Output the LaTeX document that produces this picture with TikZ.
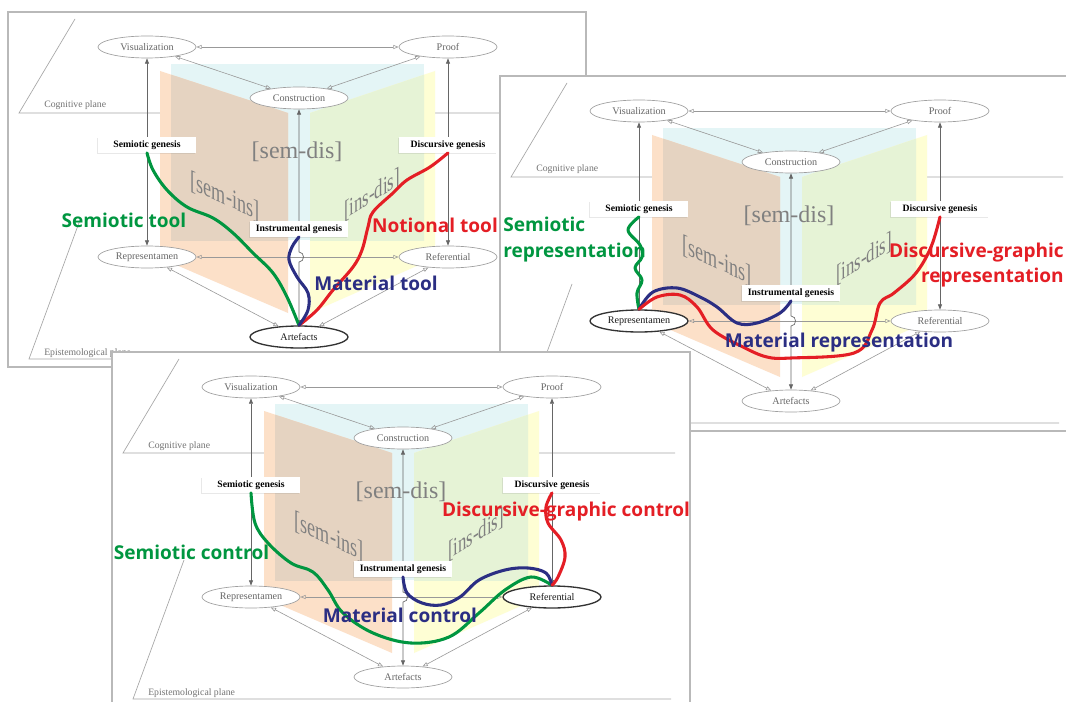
\documentclass[tikz,border=0pt]{standalone}
\usepackage{fontspec}
\setmainfont{Liberation Serif}
\newfontfamily\lblfont{Open Sans}
\usetikzlibrary{arrows.meta,shapes.geometric,shadows}
\definecolor{cyanC}{RGB}{228,245,246}
\definecolor{orangeC}{RGB}{252,224,200}
\definecolor{yellowC}{RGB}{254,254,212}
\definecolor{brownC}{RGB}{229,211,193}
\definecolor{greenC}{RGB}{230,243,214}
\definecolor{cgreen}{RGB}{0,150,64}
\definecolor{cred}{RGB}{228,30,37}
\definecolor{cnavy}{RGB}{43,46,131}
\tikzset{
 ell/.style={ellipse, draw=gray!75, line width=0.5pt, fill=white, minimum width=73.5pt, minimum height=16.5pt, inner sep=0pt, font=\fontsize{7.6}{9}\selectfont, text=black!60},
 hl/.style={ell, draw=black!80, line width=1pt, text=black!90},
 gen/.style={fill=white, minimum width=73.5pt, minimum height=11.5pt, inner sep=1pt, font=\bfseries\fontsize{7.3}{9}\selectfont, text=black, drop shadow={shadow xshift=-0.6pt, shadow yshift=-0.8pt, opacity=0.18}},
 oa/.style={draw=gray!80, line width=0.45pt, {Triangle[open,length=4pt,width=3pt]}-{Triangle[open,length=4pt,width=3pt]}},
 fa/.style={draw=black!60, line width=0.5pt, {Triangle[length=4pt,width=3pt]}-{Triangle[length=4pt,width=3pt]}},
 planeline/.style={draw=gray!70, line width=0.5pt},
 planetxt/.style={font=\fontsize{7.3}{9}\selectfont, text=black!55, anchor=base west, inner sep=0pt},
 frame/.style={draw=gray!55, line width=0.8pt, fill=white, drop shadow={shadow xshift=0.8pt, shadow yshift=-0.8pt, opacity=0.2}},
 big/.style={font=\fontsize{18}{20}\selectfont, text=black!50, inner sep=0pt},
 curve/.style={line width=2.3pt, line cap=round, line join=round},
 lbl/.style={font=\lblfont\bfseries\fontsize{14.3}{19}\selectfont, inner sep=0pt},
}
\newcommand\drawbase[3]{%
  \path[frame] (-139,-35) rectangle (439,320);
  \draw[planeline] (-72,-28) -- (-128,66) -- (424,66);
  \draw[planeline] (-67,173) -- (-118,312) -- (420,312);
  \node[planetxt] (cp) at (-103,61) {Cognitive plane};
  \node[planetxt] (ep) at (-103,308) {Epistemological plane};
  \fill[cyanC] (24,17) rectangle (277,193);
  \fill[orangeC] (13,24) -- (141,66) -- (141,266) -- (13,211) -- cycle;
  \fill[yellowC] (288,24) -- (163,66) -- (163,266) -- (288,211) -- cycle;
  \begin{scope}
   \clip (24,17) rectangle (277,193);
   \fill[brownC] (13,24) -- (141,66) -- (141,266) -- (13,211) -- cycle;
   \fill[greenC] (288,24) -- (163,66) -- (163,266) -- (288,211) -- cycle;
  \end{scope}
  \node[big] (sd) at (150,105) {[sem-dis]};
  \node[big, font=\fontsize{20}{22}\selectfont, xscale=0.68, yslant=-0.32] (si) at (78,150) {[sem-ins]};
  \node[big, font=\fontsize{19}{21}\selectfont, xscale=0.66, yslant=0.42] (id) at (225,148) {[ins-dis]};
  \node[ell] (vis) at (0,0) {Visualization};
  \node[ell] (pro) at (301,0) {Proof};
  \node[ell] (con) at (152,51) {Construction};
  \node[#1] (rep) at (0,210) {Representamen};
  \node[#2] (ref) at (301,210) {Referential};
  \node[#3] (art) at (152,290) {Artefacts};
  \draw[oa] (vis) -- (pro);
  \draw[oa] (vis) -- (con);
  \draw[oa] (pro) -- (con);
  \draw[oa] (rep) -- (ref);
  \draw[oa] (rep) -- (art);
  \draw[oa] (ref) -- (art);
  \draw[fa] (vis) -- (rep);
  \draw[fa] (pro) -- (ref);
  \coordinate (h1) at (152,205);
  \coordinate (h2) at (152,215);
  \draw[fa] (con) -- (h1) .. controls (158,205) and (158,215) .. (h2) -- (art);
  \node[gen] (sg) at (0,98) {Semiotic genesis};
  \node[gen] (dg) at (301,98) {Discursive genesis};
  \node[gen] (ig) at (152,182) {Instrumental genesis};
}
\begin{document}
\begin{tikzpicture}[x=0.75pt,y=-0.75pt]
\useasboundingbox (0,0) rectangle (1066,702);
% panel 1
\begin{scope}[shift={(147,47)}]
  \drawbase{ell}{ell}{hl}
  \draw[curve, cgreen] plot[smooth, tension=0.6] coordinates {(sg.south) (6,123) (20,143) (40,160) (66,171) (86,186) (106,206) (126,226) (140,250) (art.north)};
  \draw[curve, cred] plot[smooth, tension=0.6] coordinates {(dg.south) (283,120) (260,133) (246,146) (226,165) (221,180) (215,203) (206,220) (186,243) (170,263) (art.north)};
  \draw[curve, cnavy] plot[smooth, tension=0.6] coordinates {(ig.south) (145,200) (142,213) (150,230) (161,246) (161,263) (art.north)};
  \node[lbl, text=cgreen] (l1) at (-23,173) {Semiotic tool};
  \node[lbl, text=cred] (l2) at (288,178) {Notional tool};
  \node[lbl, text=cnavy] (l3) at (229,236) {Material tool};
\end{scope}
% panel 2
\begin{scope}[shift={(639,111)}]
  \drawbase{hl}{ell}{ell}
  \draw[curve, cgreen] plot[smooth, tension=0.6] coordinates {(sg.south) (-11,119) (1,134) (3,146) (-4,157) (3,169) (-2,182) (rep.north)};
  \draw[curve, cnavy] plot[smooth, tension=0.6] coordinates {(rep.north) (14,181) (38,177) (61,186) (78,196) (98,212) (118,212) (141,202) (ig.south)};
  \draw[curve, cred] plot[smooth, tension=0.6] coordinates {(rep.north) (18,186) (41,184) (58,196) (74,219) (104,236) (128,246) (152,247) (215,242) (233,219) (241,192) (255,182) (277,162) (292,136) (dg.south)};
  \node[lbl, text=cgreen, align=left, anchor=west] (l4) at (-136,128.5) {Semiotic\\representation};
  \node[lbl, text=cred, align=right, anchor=east] (l5) at (425,154) {Discursive-graphic\\representation};
  \node[lbl, text=cnavy] (l6) at (200,232) {Material representation};
\end{scope}
% panel 3
\begin{scope}[shift={(251,387)}]
  \drawbase{ell}{hl}{ell}
  \draw[curve, cgreen] plot[smooth, tension=0.6] coordinates {(sg.south) (4,136) (17,156) (40,176) (62,185) (77,203) (92,226) (122,246) (160,256) (198,250) (228,226) (254,203) (280,190) (ref.north)};
  \draw[curve, cnavy] plot[smooth, tension=0.6] coordinates {(ig.south) (156,206) (171,216) (190,218) (209,210) (228,193) (254,183) (277,181) (295,186) (ref.north)};
  \draw[curve, cred] plot[smooth, tension=0.6] coordinates {(dg.south) (295,120) (297,136) (310,153) (314,170) (307,190) (ref.north)};
  \node[lbl, text=cgreen] (l7) at (-59.5,165) {Semiotic control};
  \node[lbl, text=cred] (l8) at (315,125) {Discursive-graphic control};
  \node[lbl, text=cnavy] (l9) at (149,228) {Material control};
\end{scope}
\end{tikzpicture}
\end{document}
